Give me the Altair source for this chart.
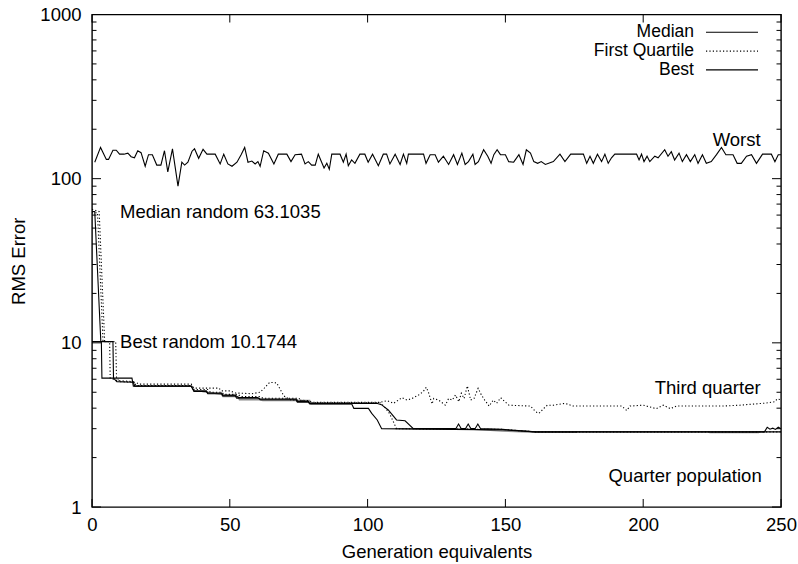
import altair as alt
import pandas as pd

# ---------------- data ----------------
worst_gen = [1, 3.1, 5.2, 6, 7.6, 8.8, 10, 11.6, 13, 14.2, 15.4, 16.6, 17.8, 19.3, 20.5, 21.9, 23.5, 25, 26.3, 27.5,
             29.2, 31.2, 32.6, 33.6, 34.8, 36.3, 37.2, 38.7, 40.3, 41.7, 44.7, 46.5, 47.8, 49.3, 50.8, 52.6, 54.1, 55.4,
             56.6, 58, 59.2, 60.2, 61, 62.3, 64, 66, 67.6, 70.7, 72.2, 73.7, 76, 77.3, 78.5, 79.7, 81, 82.1, 84.2, 85.2,
             86.1, 87, 90, 91.2, 92.2, 93, 94.2, 95.4, 97.2, 99, 100.2, 101.8, 103.9, 105.7, 106.9, 108.1, 110, 111.8,
             113, 114.2, 114.8, 120.3, 121.2, 122.7, 124.5, 125.7, 127.5, 129.4, 131.2, 132.6, 134.2, 135.4, 136.6,
             138.2, 139, 140.2, 142.1, 143.6, 144.8, 145.8, 147, 148.2, 150, 151.2, 153, 154.9, 156.4, 157.6, 159.1,
             160.3, 161.7, 163, 164.5, 167.4, 169.8, 171.6, 173.7, 178.3, 179.5, 180.7, 181.9, 183.4, 184.9, 186.1,
             187.3, 188.5, 189.7, 197.6, 198.5, 199.4, 200.3, 201.4, 202.4, 204.2, 205.4, 207.8, 209, 210.2, 211.4,
             213, 214.2, 215.7, 217.1, 218.7, 219.9, 221.5, 222.9, 224.7, 226.6, 228.4, 230, 232.6, 234.1, 235.6,
             237.5, 239.3, 241.1, 243.3, 246.5, 247.8, 249, 250]
worst_val = [126, 155, 131, 131, 149, 149, 141, 141, 143, 136, 134, 148, 144, 119, 140, 140, 121, 121, 148, 110,
             152, 90, 126, 121, 126, 147, 152, 133, 151, 141, 141, 123, 141, 123, 119, 126, 140, 155,
             126, 128, 123, 127, 119, 148, 143, 123, 141, 141, 127, 140, 141, 123, 127, 121, 121, 141, 116, 124,
             114, 141, 141, 126, 141, 120, 130, 124, 141, 141, 126, 141, 120, 141, 141, 123, 141, 122,
             141, 124, 141, 141, 124, 140, 140, 126, 137, 122, 140, 122, 143, 122, 127,
             141, 122, 127, 150, 137, 124, 140, 150, 140, 140, 127, 126, 140, 122, 150, 143,
             127, 124, 127, 122, 127, 141, 127, 141, 141, 124, 137, 124, 141, 127, 141,
             124, 134, 141, 141, 130, 141, 127, 137, 127, 137, 134, 150, 137, 146, 130,
             143, 127, 140, 127, 140, 124, 140, 124, 127, 140, 155, 140, 140, 124, 124,
             137, 140, 124, 141, 141, 127, 140, 140]

third_gen = [0, 2.6, 4.6, 8.6, 8.9, 10, 16, 17, 36, 37, 46, 47, 50, 52, 58, 61, 62.5, 64.5, 67, 69.6, 72, 78, 80,
             104.5, 107.2, 109.4, 111.2, 112.4, 114.3, 116.1, 118.5, 120.1, 121.3, 122.2, 123.4, 124, 125.8, 128.2,
             129.4, 130.7, 131.9, 133.1, 134, 135, 136.2, 137.4, 138.6, 140.1, 141.3, 142.5, 144.1, 145.6, 146.8,
             148.3, 149.8, 151.3, 159.1, 161, 162.2, 163.8, 165.2, 167.4, 171.6, 174.6, 192.2, 194, 195.2, 200,
             204.8, 207.3, 209.9, 212.1, 229, 235, 244.7, 247.8, 248.6, 250]
third_val = [65, 63, 10.17, 10.17, 6.1, 5.8, 5.75, 5.6, 5.6, 5.3, 5.3, 5.1, 5.1, 4.95, 4.9, 5.0, 5.3, 5.75, 5.7, 4.75,
             4.5, 4.45, 4.34, 4.34, 4.44, 4.28, 4.48, 4.63, 4.48, 4.58, 4.81, 5.03, 5.36, 4.93, 4.24, 4.58, 4.48,
             4.17, 4.58, 4.48, 4.81, 4.38, 4.93, 4.58, 5.46, 4.48, 4.58, 5.28, 4.81, 4.48, 4.12, 4.48, 4.28, 4.63,
             4.38, 4.17, 4.12, 3.8, 3.72, 3.97, 4.17, 4.17, 4.28, 4.12, 4.12, 3.87, 4.12, 4.17, 3.97, 4.17, 3.97,
             4.12, 4.12, 4.17, 4.3, 4.38, 4.55, 4.5]

median_gen = [0, 1, 3.2, 7.6, 7.8, 9, 15, 15.5, 36, 37, 41.5, 42, 47, 47.5, 52, 53, 60, 61, 74, 74.5, 78.5, 79,
              103.3, 105, 107.5, 110.5, 113.6, 116.6, 132, 133, 134, 135.5, 136.5, 137.5, 139, 140, 141, 149, 161,
              244, 245, 246, 247, 248, 249, 250]
median_val = [63.1, 63.1, 10.17, 10.17, 6.1, 5.8, 5.75, 5.45, 5.45, 5.1, 5.1, 4.95, 4.95, 4.8, 4.8, 4.65, 4.65, 4.55,
              4.55, 4.4, 4.4, 4.28, 4.28, 4.2, 3.9, 3.39, 3.35, 3.0, 3.0, 3.2, 3.0, 3.0, 3.2, 3.0, 3.0, 3.2, 3.0,
              2.97, 2.87, 2.87, 3.06, 2.98, 3.02, 2.97, 3.06, 3.0]

first_gen = [0, 2, 4, 6.4, 6.6, 9, 15, 16, 36, 37, 42, 43, 47, 48, 53, 54, 61, 62, 75, 76, 80, 104.5, 106, 108,
             110.5, 149, 161, 250]
first_val = [62, 62, 10.17, 10.17, 6.1, 5.9, 5.8, 5.5, 5.5, 5.2, 5.2, 5.0, 5.0, 4.85, 4.85, 4.7, 4.7, 4.6, 4.6, 4.45,
             4.32, 4.32, 4.1, 3.7, 3.0, 2.97, 2.87, 2.87]

best_gen = [0, 3.4, 3.6, 14.5, 15, 36, 37, 41.5, 42, 47, 47.5, 52, 52.5, 60.5, 61, 74, 74.5, 78.5, 79, 94.2, 95,
            100.3, 101.5, 103.5, 105.1, 149, 161, 250]
best_val = [10.17, 10.17, 6.1, 6.1, 5.45, 5.45, 5.05, 5.05, 4.9, 4.9, 4.75, 4.75, 4.6, 4.6, 4.5, 4.5, 4.35, 4.35,
            4.25, 4.25, 3.99, 3.99, 3.72, 3.39, 3.0, 2.95, 2.87, 2.87]

# grey "quarter population" trace, in three visible pieces
quarter_gen = [40, 47, 47.5, 53, 53.5, 61, 62, 79, 79.5, 94, 110, 137, 149, 161, 176, 224, 242]
quarter_val = [5.05, 4.85, 4.7, 4.7, 4.5, 4.5, 4.45, 4.45, 4.25, 4.25, 3.0, 2.98, 2.9, 2.85, 2.85, 2.84, 2.84]
quarter_seg = [0, 0, 0, 0, 0, 0, 0, 0, 0, 0, 1, 1, 1, 1, 1, 2, 2]

x_ticks = [0, 50, 100, 150, 200, 250]
y_major = [1, 10, 100, 1000]
y_minor = [m * d for d in (1, 10, 100) for m in range(2, 10)]

legend_names = ["Median", "First Quartile", "Best"]
legend_dotted = [False, True, False]

notes_left = ["Median random 63.1035", "Best random 10.1744"]
notes_left_gen = [10.2, 10.2]
notes_left_val = [62.6, 10.17]
notes_right = ["Worst", "Third quarter", "Quarter population"]
notes_right_gen = [242.6, 242.6, 243.0]
notes_right_val = [172, 5.31, 1.545]

# ---------------- chart ----------------
W, H = 689, 492.5
FONT = "Liberation Sans"
FS = 18.5
LEG_FS = 17.5


def frame(name, gens, vals, seg=None):
    return pd.DataFrame({"gen": gens, "val": vals, "series": name,
                         "seg": seg if seg is not None else [0] * len(gens)})


solid_df = pd.concat([frame("Worst", worst_gen, worst_val), frame("Median", median_gen, median_val),
                      frame("Best", best_gen, best_val)])
dotted_df = pd.concat([frame("Third quarter", third_gen, third_val),
                       frame("First Quartile", first_gen, first_val)])
gray_df = frame("Quarter population", quarter_gen, quarter_val, quarter_seg)

axis_font = dict(labelFont=FONT, titleFont=FONT, labelFontSize=FS, titleFontSize=FS, titleFontWeight="normal",
                 labelColor="black", titleColor="black")
xs = alt.Scale(domain=[0, 250], nice=False, zero=False)
ys = alt.Scale(type="log", domain=[1, 1000], nice=False)
x_axis = alt.Axis(values=x_ticks, ticks=False, domain=False, grid=False, labelPadding=8, labelFlush=False,
                  title="Generation equivalents", titleBaseline="middle", titleY=44, **axis_font)
y_axis = alt.Axis(values=y_major, ticks=False, domain=False, grid=False, labelPadding=11, format="d",
                  labelFlush=False,
                  title="RMS Error", titleBaseline="middle", titleX=-74, titleY=H / 2, titleAngle=-90,
                  **axis_font)
X = alt.X("gen:Q", scale=xs, axis=x_axis)
Y = alt.Y("val:Q", scale=ys, axis=y_axis)

solid = alt.Chart(solid_df).mark_line(color="black", strokeWidth=1.1).encode(
    x=X, y=Y, detail="series:N")
dotted = alt.Chart(dotted_df).mark_line(color="black", strokeWidth=1.1, strokeDash=[1.2, 2.2]).encode(
    x=X, y=Y, detail="series:N")
gray = alt.Chart(gray_df).mark_line(color="#8c8c8c", strokeWidth=1.4).encode(
    x=X, y=Y, detail="seg:N")

ymaj_df = pd.DataFrame({"val": y_major})
ymin_df = pd.DataFrame({"val": y_minor})
xt_df = pd.DataFrame({"gen": x_ticks})
tick_style = dict(color="black", strokeWidth=1)
ticks = [
    alt.Chart(ymaj_df).mark_rule(**tick_style).encode(y=Y, x=alt.value(0), x2=alt.value(9)),
    alt.Chart(ymaj_df).mark_rule(**tick_style).encode(y=Y, x=alt.value(W - 9), x2=alt.value(W)),
    alt.Chart(ymin_df).mark_rule(**tick_style).encode(y=Y, x=alt.value(0), x2=alt.value(4.5)),
    alt.Chart(ymin_df).mark_rule(**tick_style).encode(y=Y, x=alt.value(W - 4.5), x2=alt.value(W)),
    alt.Chart(xt_df).mark_rule(**tick_style).encode(x=X, y=alt.value(H), y2=alt.value(H - 8)),
    alt.Chart(xt_df).mark_rule(**tick_style).encode(x=X, y=alt.value(0), y2=alt.value(8)),
]

nl_df = pd.DataFrame({"gen": notes_left_gen, "val": notes_left_val, "txt": notes_left})
nr_df = pd.DataFrame({"gen": notes_right_gen, "val": notes_right_val, "txt": notes_right})
notes_l = alt.Chart(nl_df).mark_text(align="left", baseline="middle", font=FONT, fontSize=FS,
                                     color="black").encode(x=X, y=Y, text="txt:N")
notes_r = alt.Chart(nr_df).mark_text(align="right", baseline="middle", font=FONT, fontSize=FS,
                                     color="black").encode(x=X, y=Y, text="txt:N")

# legend in gnuplot style: label on the left, line sample on the right
leg_layers = []
for i, (name, dotted_flag) in enumerate(zip(legend_names, legend_dotted)):
    yy = 17.8 + i * 18.8
    ldf = pd.DataFrame({"txt": [name]})
    leg_layers.append(alt.Chart(ldf).mark_text(align="right", baseline="middle", font=FONT, fontSize=LEG_FS,
                                               color="black").encode(
        x=alt.value(602), y=alt.value(yy), text="txt:N"))
    rule_kw = dict(color="black", strokeWidth=1.1)
    if dotted_flag:
        rule_kw["strokeDash"] = [1.2, 2.2]
    leg_layers.append(alt.Chart(ldf).mark_rule(**rule_kw).encode(
        x=alt.value(614), x2=alt.value(666), y=alt.value(yy)))

chart = alt.layer(gray, dotted, solid, *ticks, notes_l, notes_r, *leg_layers).properties(
    width=W, height=H,
    background="white",
    autosize=alt.AutoSizeParams(type="none"),
    padding={"left": 92, "top": 14.5, "right": 17, "bottom": 57},
).configure_view(stroke="black", strokeWidth=1.4)

chart.save("out.html", embed_options={"renderer": "svg", "actions": False})
